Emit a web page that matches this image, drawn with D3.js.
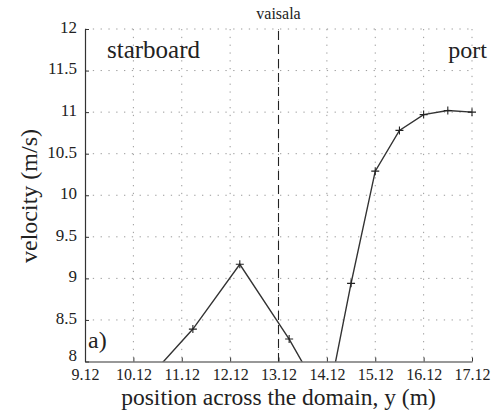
<!DOCTYPE html>
<html>
<head>
<meta charset="utf-8">
<script src="https://cdn.jsdelivr.net/npm/d3@7"></script>
<style>
  html, body { margin: 0; padding: 0; background: #fff; }
</style>
</head>
<body>
<svg id="chart" width="498" height="416"></svg>
<script>
// ---- data ----
const positions = [10.37, 11.35, 12.32, 13.34, 14.12, 14.62, 15.12, 15.62, 16.12, 16.62, 17.12];
const velocities = [7.76, 8.39, 9.17, 8.27, 7.47, 8.94, 10.29, 10.78, 10.97, 11.02, 11.0];
const xTicks = [9.12, 10.12, 11.12, 12.12, 13.12, 14.12, 15.12, 16.12, 17.12];
const xTickLabels = ["9.12", "10.12", "11.12", "12.12", "13.12", "14.12", "15.12", "16.12", "17.12"];
const yTicks = [8, 8.5, 9, 9.5, 10, 10.5, 11, 11.5, 12];
const yTickLabels = ["8", "8.5", "9", "9.5", "10", "10.5", "11", "11.5", "12"];
const vaisalaPos = 13.12;

const FONT = "'Liberation Serif', 'Times New Roman', Times, serif";
const svg = d3.select("#chart");
const L = 85, R = 472, T = 29, B = 361.5;

const x = d3.scaleLinear().domain([9.12, 17.12]).range([L, R]);
const y = d3.scaleLinear().domain([8, 12]).range([B, T]);

// grid
const grid = svg.append("g");
grid.selectAll("line.vx").data(xTicks.slice(1)).join("line")
  .attr("x1", d => x(d)).attr("x2", d => x(d))
  .attr("y1", T).attr("y2", B)
  .attr("stroke", "#9a9a9a").attr("stroke-width", 1)
  .attr("stroke-dasharray", "1.3,6.5");
grid.selectAll("line.hy").data(yTicks.slice(1)).join("line")
  .attr("x1", L).attr("x2", R)
  .attr("y1", d => y(d)).attr("y2", d => y(d))
  .attr("stroke", "#9a9a9a").attr("stroke-width", 1)
  .attr("stroke-dasharray", "1.3,6.5");

// axes
const xAxis = d3.axisBottom(x).tickValues(xTicks)
  .tickFormat((d, i) => xTickLabels[i]).tickSizeInner(-4).tickSizeOuter(0).tickPadding(7);
const gx = svg.append("g").attr("transform", `translate(0,${B})`).call(xAxis);
gx.attr("font-family", null).attr("font-size", null);
gx.select(".domain").attr("stroke", "#333").attr("stroke-width", 1.2);
gx.selectAll(".tick line").attr("stroke", "#333");
gx.selectAll(".tick text").style("font-family", FONT).style("font-size", "16px").attr("fill", "#222");

const yAxis = d3.axisLeft(y).tickValues(yTicks)
  .tickFormat((d, i) => yTickLabels[i]).tickSizeInner(-4).tickSizeOuter(0).tickPadding(8);
const gy = svg.append("g").attr("transform", `translate(${L},0)`).call(yAxis);
gy.attr("font-family", null).attr("font-size", null);
gy.select(".domain").attr("stroke", "#333").attr("stroke-width", 1.2);
gy.selectAll(".tick line").attr("stroke", "#333");
gy.selectAll(".tick text").style("font-family", FONT).style("font-size", "17px").attr("fill", "#222")
  .attr("dy", d => d === 8 ? "-0.06em" : "0.2em");

// vaisala dashed line
svg.append("line")
  .attr("x1", x(vaisalaPos)).attr("x2", x(vaisalaPos))
  .attr("y1", T + 2).attr("y2", B)
  .attr("stroke", "#222").attr("stroke-width", 1.1)
  .attr("stroke-dasharray", "9,5");

// clip
svg.append("clipPath").attr("id", "clip").append("rect")
  .attr("x", L - 12).attr("y", T - 12).attr("width", R - L + 24).attr("height", B - T + 12);

const pts = positions.map((p, i) => [p, velocities[i]]);
const plot = svg.append("g").attr("clip-path", "url(#clip)");
plot.append("path").datum(pts)
  .attr("d", d3.line().x(d => x(d[0])).y(d => y(d[1])))
  .attr("fill", "none").attr("stroke", "#333").attr("stroke-width", 1.4);
const m = 4;
plot.selectAll("path.mk").data(pts).join("path")
  .attr("d", d => `M${x(d[0]) - m},${y(d[1])}H${x(d[0]) + m}M${x(d[0])},${y(d[1]) - m}V${y(d[1]) + m}`)
  .attr("stroke", "#222").attr("stroke-width", 1.1).attr("fill", "none");

// texts
function txt(xp, yp, size, s, anchor) {
  return svg.append("text").attr("x", xp).attr("y", yp)
    .attr("text-anchor", anchor || "start")
    .style("font-family", FONT).style("font-size", size + "px")
    .attr("fill", "#222").text(s);
}
txt(x(vaisalaPos), 19, 16, "vaisala", "middle");
txt(107, 58, 25, "starboard");
txt(487, 58, 24, "port", "end");
txt(88, 348, 24, "a)");
txt((L + R) / 2, 405, 23.5, "position across the domain, y (m)", "middle");
svg.append("text").attr("transform", "translate(37,196) rotate(-90)").attr("text-anchor", "middle")
  .style("font-family", FONT).style("font-size", "24px").attr("fill", "#222").text("velocity (m/s)");
</script>
</body>
</html>
